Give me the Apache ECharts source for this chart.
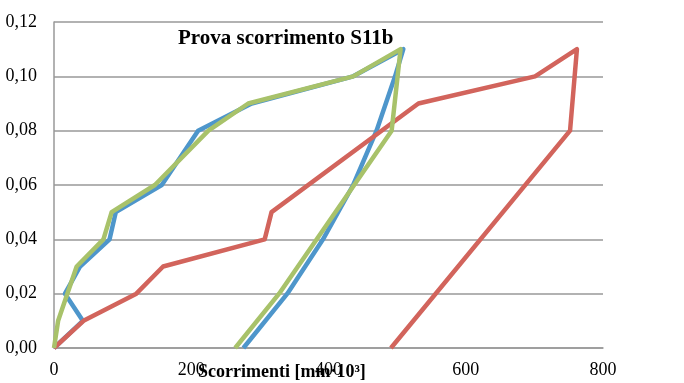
<!DOCTYPE html>
<html>
<head>
<meta charset="utf-8">
<script src="https://cdn.jsdelivr.net/npm/echarts@6/dist/echarts.min.js"></script>
<style>
  html, body { margin: 0; padding: 0; background: #fff; }
  #chart { width: 684px; height: 383px; }
</style>
</head>
<body>
<div id="chart"></div>
<script>
// Scorrimenti [mm*10^3] vs load, three runs
const blueX  = [0, 42, 16, 38, 81, 90, 157, 210, 288, 436, 509, 497, 470, 436, 392, 340, 276];
const blueY  = [0, 0.01, 0.02, 0.03, 0.04, 0.05, 0.06, 0.08, 0.09, 0.10, 0.11, 0.10, 0.08, 0.06, 0.04, 0.02, 0];

const redX   = [0, 43, 120, 159, 307, 317, 531, 701, 762, 752, 491];
const redY   = [0, 0.01, 0.02, 0.03, 0.04, 0.05, 0.09, 0.10, 0.11, 0.08, 0];

const greenX = [0, 6, 33, 72, 84, 147, 225, 283, 436, 505, 492, 328, 264];
const greenY = [0, 0.01, 0.03, 0.04, 0.05, 0.06, 0.08, 0.09, 0.10, 0.11, 0.08, 0.02, 0];

const titleText = "Prova scorrimento S11b";
const xName = "Scorrimenti [mm\u00b710\u00b3]";

const pairs = (xs, ys) => xs.map((x, i) => [x, ys[i]]);

const chart = echarts.init(document.getElementById("chart"));

const serif = "'Liberation Serif', 'DejaVu Serif', serif";

const lineSeries = (data, color) => ({
  type: "line",
  data: data,
  symbol: "none",
  lineStyle: { color: color, width: 4.5, join: "round" },
  animation: false
});

chart.setOption({
  animation: false,
  title: [
    {
      text: titleText,
      left: 173,
      top: 23,
      textStyle: { fontFamily: serif, fontWeight: "bold", fontSize: 21, color: "#000" }
    },
    {
      text: xName,
      left: 193,
      top: 358,
      textStyle: { fontFamily: serif, fontWeight: "bold", fontSize: 18, color: "#000" }
    }
  ],
  grid: { left: 54, right: 81, top: 22, bottom: 35 },
  xAxis: {
    type: "value",
    min: 0,
    max: 800,
    interval: 200,
    axisLine: { show: true, lineStyle: { color: "#999", width: 1.5 } },
    axisTick: { show: false },
    splitLine: { show: false },
    axisLabel: { margin: 13, fontFamily: serif, fontSize: 18, color: "#000" }
  },
  yAxis: {
    type: "value",
    min: 0,
    max: 0.12,
    interval: 0.02,
    axisLine: { show: true, lineStyle: { color: "#999", width: 1.5 } },
    axisTick: { show: false },
    splitLine: { show: true, lineStyle: { color: "#999", width: 1.5 } },
    axisLabel: {
      margin: 17,
      fontFamily: serif,
      fontSize: 18,
      color: "#000",
      formatter: v => v.toFixed(2).replace(".", ",")
    }
  },
  series: [
    lineSeries(pairs(blueX, blueY), "#4E96CB"),
    lineSeries(pairs(redX, redY), "#D2645C"),
    lineSeries(pairs(greenX, greenY), "#A8C26A")
  ]
});
</script>
</body>
</html>
